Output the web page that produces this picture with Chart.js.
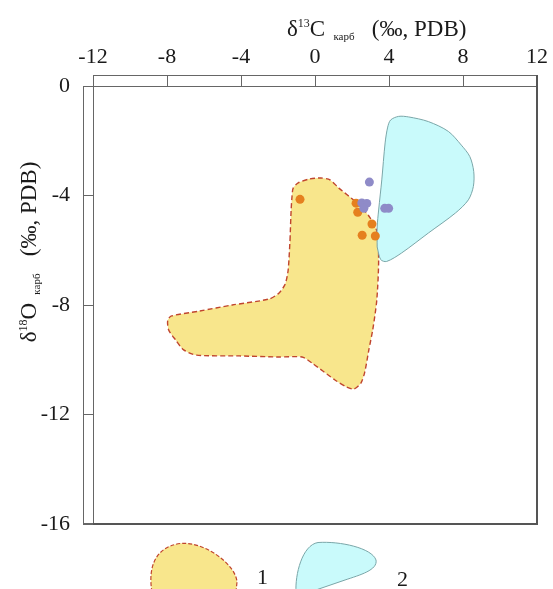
<!DOCTYPE html>
<html>
<head>
<meta charset="utf-8">
<script src="https://cdn.jsdelivr.net/npm/chart.js@4.4.1/dist/chart.umd.min.js"></script>
<style>
html,body{margin:0;padding:0;background:#fff;}
canvas{display:block;}
</style>
</head>
<body>
<canvas id="c" width="553" height="589"></canvas>
<script>
// ---- data (‰, PDB) ----
const xTicks = [-12, -8, -4, 0, 4, 8, 12];
const yTicks = [0, -4, -8, -12, -16];

// Field 1 (yellow, dashed outline)
const field1X = [-1.35,-1.29,-1.24,-1.18,-0.91,-0.32,0.32,0.81,1.29,2.21,2.91,3.34,3.44,3.34,3.12,2.91,2.69,2.48,2.10,1.72,1.08,-0.16,-0.70,-1.94,-4.09,-6.40,-7.10,-7.53,-7.91,-7.96,-7.75,-6.24,-4.47,-2.48,-1.94,-1.61,-1.45,-1.35];
const field1Y = [-5.63,-4.53,-4.02,-3.73,-3.54,-3.40,-3.36,-3.43,-3.73,-4.24,-4.75,-5.30,-6.36,-7.82,-8.91,-9.64,-10.45,-10.85,-11.07,-11.00,-10.74,-10.12,-9.90,-9.90,-9.86,-9.83,-9.64,-9.28,-8.91,-8.55,-8.40,-8.22,-8.00,-7.78,-7.56,-7.23,-6.72,-5.63];

// Field 2 (cyan)
const field2X = [3.36,3.36,3.44,3.61,3.79,3.93,4.09,4.52,5.06,6.13,7.21,7.91,8.37,8.58,8.56,8.29,7.59,6.13,4.68,3.87,3.55,3.36];
const field2Y = [-5.88,-5.15,-4.53,-3.43,-2.08,-1.50,-1.24,-1.11,-1.13,-1.30,-1.66,-2.16,-2.58,-3.12,-3.67,-4.16,-4.64,-5.37,-6.10,-6.41,-6.34,-5.88];

// Samples
const orangeX = [-0.81, 2.22, 2.31, 3.08, 2.55, 3.26];
const orangeY = [-4.14, -4.28, -4.61, -5.04, -5.45, -5.48];
const purpleX = [2.94, 2.53, 2.80, 2.64, 3.77, 3.98];
const purpleY = [-3.51, -4.27, -4.29, -4.47, -4.47, -4.47];

const legendLabels = ['1', '2'];

const zip = (xs, ys) => xs.map((x, i) => ({x, y: ys[i]}));
const SERIF = '"Liberation Serif", "Times New Roman", serif';
const AX = '#666';

function drawRich(ctx, parts, x, y) {
  let cx = x;
  for (const [t, size, dy] of parts) {
    ctx.font = size + 'px ' + SERIF;
    ctx.fillText(t, cx, y + dy);
    cx += ctx.measureText(t).width;
  }
  return cx - x;
}
function richWidth(ctx, parts) {
  let w = 0;
  for (const [t, size] of parts) { ctx.font = size + 'px ' + SERIF; w += ctx.measureText(t).width; }
  return w;
}

const decor = {
  id: 'decor',
  afterDraw(chart) {
    const ctx = chart.ctx, a = chart.chartArea;
    ctx.save();
    ctx.strokeStyle = AX; ctx.lineWidth = 1;
    ctx.beginPath();
    ctx.moveTo(a.left + 0.5, a.top - 11 + 0.5); ctx.lineTo(a.right, a.top - 11 + 0.5);
    ctx.moveTo(a.left + 0.5, a.top - 11); ctx.lineTo(a.left + 0.5, a.top);
    ctx.moveTo(a.left - 10, a.top + 0.5); ctx.lineTo(a.left, a.top + 0.5);
    ctx.moveTo(a.left - 10 + 0.5, a.top); ctx.lineTo(a.left - 10 + 0.5, a.bottom);
    ctx.moveTo(a.left - 10, a.bottom - 0.5); ctx.lineTo(a.left, a.bottom - 0.5);
    ctx.stroke();
    ctx.strokeStyle = '#555'; ctx.lineWidth = 2;
    ctx.beginPath();
    ctx.moveTo(a.left, a.bottom); ctx.lineTo(a.right, a.bottom);
    ctx.lineTo(a.right, a.top - 11);
    ctx.stroke();

    ctx.fillStyle = '#1a1a1a';
    ctx.textBaseline = 'alphabetic';
    ctx.textAlign = 'left';
    const xParts = [['δ', 23, 0], ['13', 12, -9], ['C', 23, 0], ['   карб', 11, 4], ['   (‰, PDB)', 23, 0]];
    drawRich(ctx, xParts, 287, 36);
    const yParts = [['δ', 23, 0], ['18', 12, -9], ['O', 23, 0], ['   карб', 11, 4], ['   (‰, PDB)', 23, 0]];
    const w = richWidth(ctx, yParts);
    ctx.save();
    ctx.translate(36, 252);
    ctx.rotate(-Math.PI / 2);
    drawRich(ctx, yParts, -w / 2, 0);
    ctx.restore();

    // legend
    const p1 = () => {
      ctx.beginPath();
      ctx.moveTo(152, 592);
      ctx.bezierCurveTo(149, 575, 150, 548, 180, 543.5);
      ctx.bezierCurveTo(205, 541, 236, 565, 237, 582);
      ctx.lineTo(236, 592);
    };
    ctx.fillStyle = '#F8E68C';
    ctx.strokeStyle = '#C0452E';
    ctx.lineWidth = 1.2;
    p1(); ctx.closePath(); ctx.fill();
    ctx.setLineDash([4, 2]);
    p1(); ctx.stroke();
    ctx.setLineDash([]);
    ctx.fillStyle = '#C9FAFB';
    ctx.strokeStyle = '#7AA6A8';
    ctx.lineWidth = 1;
    ctx.beginPath();
    ctx.moveTo(296, 592);
    ctx.bezierCurveTo(295, 575, 302, 545, 318, 542.5);
    ctx.bezierCurveTo(340, 541, 372, 548, 376, 560);
    ctx.bezierCurveTo(378, 570, 360, 575, 345, 580);
    ctx.lineTo(310, 592);
    ctx.fill();
    ctx.stroke();

    ctx.fillStyle = '#1a1a1a';
    ctx.font = '22px ' + SERIF;
    ctx.fillText(legendLabels[0], 257, 584);
    ctx.fillText(legendLabels[1], 397, 586);
    ctx.restore();
  }
};

new Chart(document.getElementById('c'), {
  type: 'scatter',
  data: {
    datasets: [
      {
        type: 'line', label: legendLabels[0], data: zip(field1X, field1Y),
        fill: 'shape', backgroundColor: '#F8E68C', borderColor: '#C0452E',
        borderWidth: 1.4, borderDash: [5, 3], pointRadius: 0, tension: 0.25, order: 3
      },
      {
        type: 'line', label: legendLabels[1], data: zip(field2X, field2Y),
        fill: 'shape', backgroundColor: '#C9FAFB', borderColor: '#7AA6A8',
        borderWidth: 1, pointRadius: 0, tension: 0.3, order: 2
      },
      {
        label: 'a', data: zip(orangeX, orangeY), backgroundColor: '#E5801F',
        borderWidth: 0, pointRadius: 4.5, order: 1
      },
      {
        label: 'b', data: zip(purpleX, purpleY), backgroundColor: '#8F8BC8',
        borderWidth: 0, pointRadius: 4.5, order: 0
      }
    ]
  },
  options: {
    responsive: false, animation: false,
    layout: {padding: {left: 0, right: 14, top: 0, bottom: 65}},
    plugins: {legend: {display: false}, tooltip: {enabled: false}},
    scales: {
      x: {
        type: 'linear', position: 'top', min: -12, max: 12,
        afterBuildTicks: s => { s.ticks = xTicks.map(v => ({value: v})); },
        afterFit: s => { s.height = 86; },
        grid: {drawOnChartArea: false, tickLength: 11, color: AX, lineWidth: 1},
        border: {display: true, color: AX, width: 1},
        ticks: {font: {family: SERIF, size: 22}, color: '#1a1a1a', padding: 5, maxRotation: 0, autoSkip: false}
      },
      y: {
        type: 'linear', position: 'left', min: -16, max: 0,
        afterBuildTicks: s => { s.ticks = yTicks.map(v => ({value: v})); },
        afterFit: s => { s.width = 93; },
        grid: {drawOnChartArea: false, tickLength: 10, color: AX, lineWidth: 1},
        border: {display: true, color: AX, width: 1},
        ticks: {font: {family: SERIF, size: 22}, color: '#1a1a1a', padding: 13, autoSkip: false}
      }
    }
  },
  plugins: [decor]
});
</script>
</body>
</html>
